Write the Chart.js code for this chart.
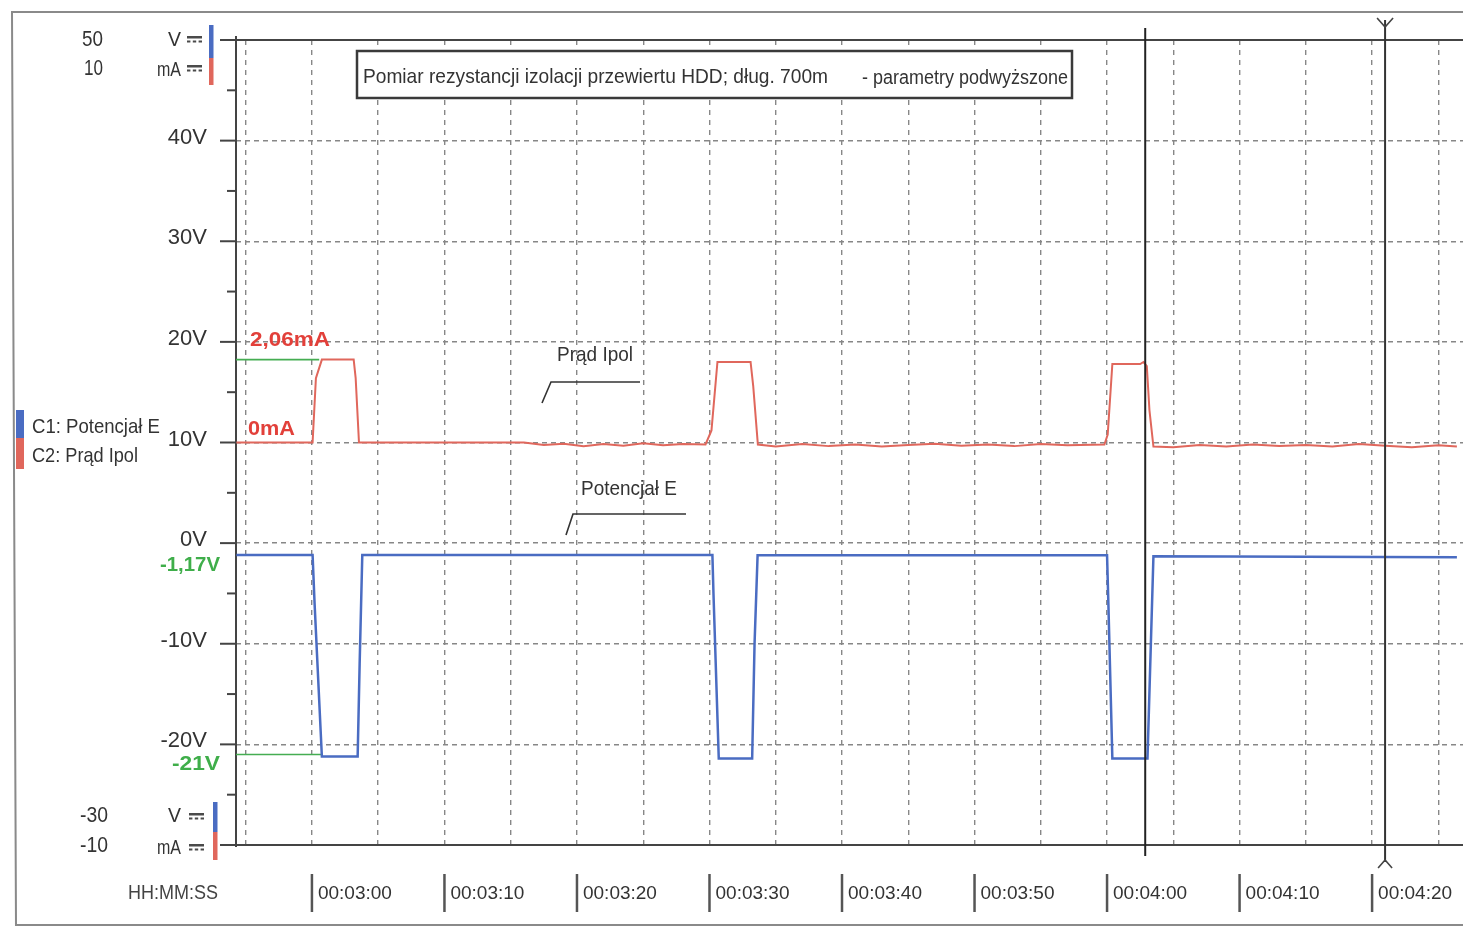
<!DOCTYPE html>
<html><head><meta charset="utf-8">
<script src="https://cdn.jsdelivr.net/npm/chart.js@4.4.1/dist/chart.umd.min.js"></script>
<style>html,body{margin:0;padding:0;background:#fff;overflow:hidden}#wrap{width:1463px;height:927px;position:relative}</style>
</head><body><div id="wrap"><canvas id="c" width="1463" height="927"></canvas></div>
<script>
// ---------- DATA ----------
const chartTitle = 'Pomiar rezystancji izolacji przewiertu HDD; dług. 700m';
const chartSubtitle = '- parametry podwyższone';
const channelNames = ['C1: Potencjał E', 'C2: Prąd Ipol'];

// time in seconds (00:03:00 = 180 s)
const timeE = [174.3, 180.05, 180.2, 180.75, 183.45, 183.6, 183.8, 210.22, 210.3, 210.7, 213.22, 213.4, 213.63, 240.0, 240.1, 240.4, 243.05, 243.15, 243.5, 266.4];
const potentialE = [-1.17, -1.17, -6, -21.2, -21.2, -12, -1.17, -1.17, -5, -21.4, -21.4, -10, -1.2, -1.2, -6, -21.4, -21.4, -17, -1.3, -1.4];

const timeI = [174.3, 180.05, 180.3, 180.75, 183.15, 183.3, 183.55, 190, 196, 197.5, 199, 200.5, 202, 203.5, 205, 206.5, 208, 209.7, 210.15, 210.6, 213.1, 213.3, 213.65, 215, 217, 219, 221, 223, 225, 227, 229, 231, 233, 235, 237, 239.8, 240.05, 240.4, 242.5, 242.75, 243.0, 243.2, 243.5, 245, 247, 249, 251, 253, 255, 257, 259, 261, 263, 265, 266.4];
const currentI = [0, 0, 1.6, 2.06, 2.06, 1.6, 0, 0, 0, -0.06, -0.03, -0.09, -0.04, -0.08, -0.02, -0.07, -0.04, -0.05, 0.3, 2.0, 2.0, 1.4, -0.05, -0.1, -0.04, -0.09, -0.05, -0.1, -0.06, -0.03, -0.08, -0.05, -0.09, -0.04, -0.07, -0.05, 0.2, 1.95, 1.95, 2.0, 1.9, 0.8, -0.1, -0.12, -0.06, -0.1, -0.05, -0.09, -0.06, -0.1, -0.04, -0.08, -0.12, -0.07, -0.1];

const xTickSeconds = [180, 190, 200, 210, 220, 230, 240, 250, 260];
const xTickLabels = ['00:03:00', '00:03:10', '00:03:20', '00:03:30', '00:03:40', '00:03:50', '00:04:00', '00:04:10', '00:04:20'];
const vTickValues = [40, 30, 20, 10, 0, -10, -20];
const vTickLabels = ['40V', '30V', '20V', '10V', '0V', '-10V', '-20V'];
const vRange = [-30, 50];
const mARange = [-10, 10];
const timeRange = [174.27, 266.86];
const cursorTimes = [242.88, 260.98];
const refCurrent = [2.06];   const refCurrentLabel = '2,06mA';
const zeroCurrent = [0];     const zeroCurrentLabel = '0mA';
const refVoltHigh = [-1.17]; const refVoltHighLabel = '-1,17V';
const refVoltLow = [-21];    const refVoltLowLabel = '-21V';
const refEndTime = [180.7];

// ---------- STYLE ----------
const C = {axis:'#444', grid:'#878787', text:'#333', blue:'#4a6cc2', red:'#e0675c', green:'#45ad52', redText:'#e2403a', greenText:'#3fae4a'};
const FONT = '"Liberation Sans", Arial, sans-serif';

function txt(ctx, s, x, y, o) {
  o = o || {};
  const size = o.size || 20, color = o.color || C.text, align = o.align || 'left', weight = o.weight || 'normal';
  ctx.save();
  ctx.font = weight + ' ' + size + 'px ' + FONT;
  ctx.fillStyle = color;
  ctx.textBaseline = 'middle';
  const m = ctx.measureText(s).width;
  const sx = o.w ? o.w / m : 1;
  const x0 = align === 'left' ? x : align === 'right' ? x - m * sx : x - m * sx / 2;
  ctx.translate(x0, y);
  ctx.scale(sx, 1);
  ctx.textAlign = 'left';
  ctx.fillText(s, 0, 0);
  ctx.restore();
}
function dc(ctx, x, y) {
  ctx.save();
  ctx.fillStyle = '#4a4a4a';
  ctx.fillRect(x, y, 15, 2.5);
  for (let i = 0; i < 3; i++) ctx.fillRect(x + i * 5.8, y + 4.5, 3.4, 2);
  ctx.restore();
}
function line(ctx, pts, color, w) {
  ctx.save();
  ctx.strokeStyle = color; ctx.lineWidth = w;
  ctx.beginPath();
  pts.forEach((p, i) => i ? ctx.lineTo(p[0], p[1]) : ctx.moveTo(p[0], p[1]));
  ctx.stroke();
  ctx.restore();
}

const decor = {
  id: 'decor',
  beforeDatasetsDraw(chart) {
    const {ctx, chartArea: a, scales: {x, y}} = chart;
    line(ctx, [[1463, 12], [12, 12], [16, 925], [1463, 925]], '#8a8a8a', 2);
    line(ctx, [[220, a.top], [a.right, a.top]], C.axis, 2);
    line(ctx, [[220, a.bottom], [a.right, a.bottom]], C.axis, 2);
    line(ctx, [[a.left, a.top - 4], [a.left, a.bottom + 2]], C.axis, 2);
    y.ticks.forEach(t => {
      const py = y.getPixelForValue(t.value);
      const len = t.value % 10 === 0 ? 16 : 9;
      line(ctx, [[a.left - len, py], [a.left, py]], C.axis, 2);
    });
    ctx.save();
    ctx.fillStyle = '#fff';
    ctx.fillRect(357, 51, 715, 47);
    ctx.strokeStyle = '#3a3a3a'; ctx.lineWidth = 2.5;
    ctx.strokeRect(357, 51, 715, 47);
    ctx.restore();
    txt(ctx, chartTitle, 363, 77, {size: 21, w: 465});
    txt(ctx, chartSubtitle, 862, 78, {size: 20, w: 206});
  },
  afterDraw(chart) {
    const {ctx, chartArea: a, scales: {x, y, y2}} = chart;
    xTickSeconds.forEach(s => {
      const px = x.getPixelForValue(s);
      line(ctx, [[px, 874], [px, 912]], '#555', 2.5);
    });
    txt(ctx, 'HH:MM:SS', 128, 893, {size: 20, w: 90, color: '#444'});
    txt(ctx, '50', 82, 40, {size: 22, w: 21});
    txt(ctx, '10', 84, 69, {size: 22, w: 19});
    txt(ctx, 'V', 181, 40, {size: 21, align: 'right', w: 13});
    txt(ctx, 'mA', 181, 70, {size: 20, align: 'right', w: 24});
    dc(ctx, 187, 36); dc(ctx, 187, 65);
    ctx.fillStyle = C.blue; ctx.fillRect(209, 25, 4.5, 33);
    ctx.fillStyle = C.red; ctx.fillRect(209, 58, 4.5, 27);
    txt(ctx, '-30', 80, 816, {size: 22, w: 28});
    txt(ctx, '-10', 80, 846, {size: 22, w: 28});
    txt(ctx, 'V', 181, 816, {size: 21, align: 'right', w: 13});
    txt(ctx, 'mA', 181, 848, {size: 20, align: 'right', w: 24});
    dc(ctx, 189, 813); dc(ctx, 189, 844);
    ctx.fillStyle = C.blue; ctx.fillRect(213, 802, 4.5, 30);
    ctx.fillStyle = C.red; ctx.fillRect(213, 832, 4.5, 28);
    ctx.fillStyle = C.blue; ctx.fillRect(16, 410, 8, 28);
    ctx.fillStyle = C.red; ctx.fillRect(16, 438, 8, 31);
    txt(ctx, channelNames[0], 32, 427, {size: 21, w: 128});
    txt(ctx, channelNames[1], 32, 456, {size: 21, w: 106});
    const yHi = y2.getPixelForValue(refCurrent[0]);
    const yZero = y2.getPixelForValue(zeroCurrent[0]);
    txt(ctx, refCurrentLabel, 250, yHi - 19, {size: 21, weight: 'bold', color: C.redText, w: 80});
    txt(ctx, zeroCurrentLabel, 248, yZero - 13, {size: 21, weight: 'bold', color: C.redText, w: 47});
    const yE1 = y.getPixelForValue(refVoltHigh[0]);
    const yE2 = y.getPixelForValue(refVoltLow[0]);
    txt(ctx, refVoltHighLabel, 220, yE1 + 10, {size: 21, weight: 'bold', color: C.greenText, align: 'right', w: 60});
    txt(ctx, refVoltLowLabel, 220, yE2 + 10, {size: 21, weight: 'bold', color: C.greenText, align: 'right', w: 48});
    txt(ctx, 'Prąd Ipol', 557, 355, {size: 21, w: 76});
    line(ctx, [[542, 403], [551, 382], [640, 382]], '#333', 1.6);
    txt(ctx, 'Potencjał E', 581, 489, {size: 21, w: 96});
    line(ctx, [[566, 535], [573, 514], [686, 514]], '#333', 1.6);
    const c1 = x.getPixelForValue(cursorTimes[0]);
    line(ctx, [[c1, 28], [c1, 856]], '#222', 2);
    const c2 = x.getPixelForValue(cursorTimes[1]);
    line(ctx, [[c2, 20], [c2, 862]], '#333', 2);
    line(ctx, [[c2 - 8, 18], [c2, 27], [c2 + 8, 18]], '#444', 1.6);
    line(ctx, [[c2 - 7, 868], [c2, 860], [c2 + 7, 868]], '#444', 1.6);
  }
};

const toPts = (xs, ys) => xs.map((t, i) => ({x: t, y: ys[i]}));

new Chart(document.getElementById('c'), {
  type: 'line',
  data: {
    datasets: [
      {label: channelNames[0], data: toPts(timeE, potentialE), yAxisID: 'y', borderColor: C.blue, borderWidth: 2.5, pointRadius: 0, tension: 0, order: 1},
      {label: channelNames[1], data: toPts(timeI, currentI), yAxisID: 'y2', borderColor: C.red, borderWidth: 2, pointRadius: 0, tension: 0, order: 2},
      {label: 'ref -21V', data: toPts([timeRange[0], refEndTime[0]], [refVoltLow[0], refVoltLow[0]]), yAxisID: 'y', borderColor: C.green, borderWidth: 1.6, pointRadius: 0, order: 3},
      {label: 'ref 2,06mA', data: toPts([timeRange[0], refEndTime[0] - 0.15], [refCurrent[0], refCurrent[0]]), yAxisID: 'y2', borderColor: C.green, borderWidth: 1.6, pointRadius: 0, order: 3}
    ]
  },
  options: {
    responsive: false,
    animation: false,
    layout: {padding: {left: 0, top: 40, right: 0, bottom: 0}},
    plugins: {legend: {display: false}, tooltip: {enabled: false}},
    scales: {
      x: {
        type: 'linear', position: 'bottom', min: timeRange[0], max: timeRange[1],
        afterFit(s) { s.height = 82; s.paddingLeft = 0; s.paddingRight = 0; },
        ticks: {
          stepSize: 5, includeBounds: false, autoSkip: false, maxRotation: 0, minRotation: 0,
          align: 'start', labelOffset: 6, padding: 37, color: '#333',
          font: {family: FONT, size: 19},
          callback(v) { const i = xTickSeconds.indexOf(v); return i >= 0 ? xTickLabels[i] : ''; }
        },
        grid: {color: C.grid, lineWidth: 1.4, drawTicks: false},
        border: {display: false, dash: [5, 5]}
      },
      y: {
        type: 'linear', position: 'left', min: vRange[0], max: vRange[1],
        afterFit(s) { s.width = 236; s.paddingTop = 0; s.paddingBottom = 0; },
        ticks: {
          stepSize: 5, autoSkip: false, padding: 29, labelOffset: -3, color: '#333',
          font: {family: FONT, size: 22},
          callback(v) { const i = vTickValues.indexOf(v); return i >= 0 ? vTickLabels[i] : ''; }
        },
        grid: {
          color: ctx => (ctx.tick && vTickValues.indexOf(ctx.tick.value) >= 0) ? C.grid : 'rgba(0,0,0,0)',
          lineWidth: 1.4, drawTicks: false
        },
        border: {display: false, dash: [5, 4]}
      },
      y2: {type: 'linear', display: false, min: mARange[0], max: mARange[1]}
    }
  },
  plugins: [decor]
});
</script>
</body></html>
